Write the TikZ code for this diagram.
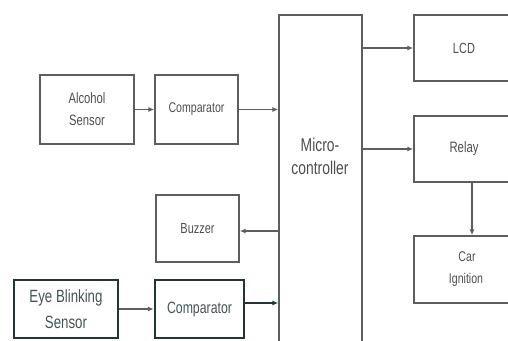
\documentclass[tikz,border=0pt]{standalone}
\usepackage{fontspec}
\setmainfont{Liberation Sans}
\newfontfamily\narrowfam[FakeStretch=0.75]{Liberation Sans}
\usetikzlibrary{arrows.meta}
\definecolor{lin}{HTML}{5E5E5E}
\definecolor{txt}{HTML}{4E4E4E}
\definecolor{dark}{HTML}{223636}
\begin{document}
\begin{tikzpicture}[x=1pt,y=-1pt,
  blk/.style={draw=lin,line width=1.4pt,text=txt,align=center,inner sep=0pt},
  thk/.style={draw=dark,line width=2.4pt,text=dark!85!white,align=center,inner sep=0pt},
  arr/.style={draw=lin,line width=1.4pt,-{Latex[length=6pt,width=5pt]}},
  fs/.style 2 args={font=\narrowfam\fontsize{#1}{#2}\selectfont}]
\useasboundingbox (0,0) rectangle (508,340);
\clip (0,0) rectangle (508,340);
\node[blk,fs={15}{22},minimum width=94pt,minimum height=69pt] (alc) at (87,109.5) {Alcohol\\Sensor};
\node[blk,fs={14.1}{16},minimum width=83pt,minimum height=69pt] (cmp1) at (196.5,109.5) {Comparator};
\node[blk,minimum width=83pt,minimum height=340pt] (mc) at (320.5,185) {};
\node[text=txt,align=center,fs={18.5}{23}] (mct) at (320,156) {Micro-\\controller};
\node[blk,fs={14.7}{17},minimum width=100pt,minimum height=66pt] (lcd) at (464,48) {LCD};
\node[blk,fs={15.1}{17},minimum width=100pt,minimum height=66pt] (rel) at (464,149) {Relay};
\node[blk,fs={14.1}{22},minimum width=100pt,minimum height=67pt] (ign) at (464,269.5) {\hspace*{6pt}Car\\\hspace*{4pt}Ignition};
\node[blk,fs={14.6}{16},minimum width=83pt,minimum height=67pt] (buz) at (197.5,228.5) {Buzzer};
\node[thk,fs={17.7}{26},minimum width=104pt,minimum height=58pt] (eye) at (66,309) {Eye Blinking\\Sensor};
\node[thk,fs={16.4}{18},minimum width=89pt,minimum height=58pt] (cmp2) at (199.5,309) {Comparator};
\draw[arr] (alc.east) -- (cmp1.west);
\draw[arr] (cmp1.east) -- (cmp1.east -| mc.west);
\draw[arr] (mc.east |- lcd.west) -- (lcd.west);
\draw[arr] (mc.east |- rel.west) -- (rel.west);
\draw[arr] ([xshift=8pt]rel.south) -- ([xshift=8pt]ign.north);
\draw[arr] ([yshift=-2.5pt]mc.west |- buz.east) -- ([yshift=-2.5pt]buz.east);
\draw[arr] (eye.east) -- (cmp2.west);
\draw[arr,draw=dark,line width=2pt] ([yshift=6pt]cmp2.east) -- ([yshift=6pt]cmp2.east -| mc.west);
\end{tikzpicture}
\end{document}
